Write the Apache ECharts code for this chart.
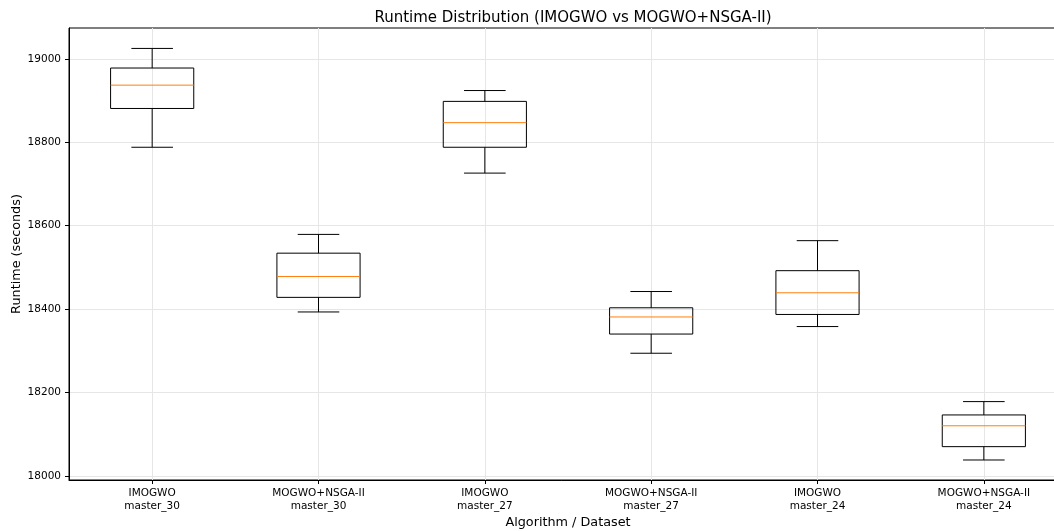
<!DOCTYPE html>
<html>
<head>
<meta charset="utf-8">
<script src="https://cdn.jsdelivr.net/npm/echarts@6/dist/echarts.min.js"></script>
<style>html,body{margin:0;padding:0;background:#fff;}#c{width:1054px;height:531px;}</style>
</head>
<body>
<div id="c"></div>
<script>
const algorithms = ['IMOGWO', 'MOGWO+NSGA-II', 'IMOGWO', 'MOGWO+NSGA-II', 'IMOGWO', 'MOGWO+NSGA-II'];
const datasets = ['master_30', 'master_30', 'master_27', 'master_27', 'master_24', 'master_24'];
const whiskerLow = [18788, 18393, 18726, 18294, 18358, 18038];
const q1 = [18881, 18428, 18788, 18340, 18387, 18070];
const median = [18937, 18478, 18847, 18381, 18439, 18120];
const q3 = [18978, 18534, 18898, 18403, 18492, 18146];
const whiskerHigh = [19025, 18579, 18924, 18442, 18564, 18178];
const yTicks = [18000, 18200, 18400, 18600, 18800, 19000];

const categories = algorithms.map((a, i) => a + '\n' + datasets[i]);
const boxData = categories.map((c, i) => [i, whiskerLow[i], q1[i], median[i], q3[i], whiskerHigh[i]]);

const FONT = 'DejaVu Sans';
const chart = echarts.init(document.getElementById('c'), null, {renderer: 'canvas'});

function renderBox(params, api) {
  const x = api.value(0);
  const pLow = api.coord([x, api.value(1)]);
  const pQ1 = api.coord([x, api.value(2)]);
  const pMed = api.coord([x, api.value(3)]);
  const pQ3 = api.coord([x, api.value(4)]);
  const pHigh = api.coord([x, api.value(5)]);
  const band = api.size([1, 0])[0];
  const bw = band * 0.5;
  const cw = bw * 0.5;
  const cx = pMed[0];
  const stroke = {stroke: '#000', lineWidth: 1, fill: null};
  return {
    type: 'group',
    children: [
      {type: 'line', shape: {x1: cx, y1: pQ3[1], x2: cx, y2: pHigh[1]}, style: stroke},
      {type: 'line', shape: {x1: cx, y1: pQ1[1], x2: cx, y2: pLow[1]}, style: stroke},
      {type: 'line', shape: {x1: cx - cw / 2, y1: pHigh[1], x2: cx + cw / 2, y2: pHigh[1]}, style: stroke},
      {type: 'line', shape: {x1: cx - cw / 2, y1: pLow[1], x2: cx + cw / 2, y2: pLow[1]}, style: stroke},
      {type: 'rect', shape: {x: cx - bw / 2, y: pQ3[1], width: bw, height: pQ1[1] - pQ3[1]}, style: stroke},
      {type: 'line', shape: {x1: cx - bw / 2, y1: pMed[1], x2: cx + bw / 2, y2: pMed[1]}, style: {stroke: '#ff7f0e', lineWidth: 1}}
    ]
  };
}

chart.setOption({
  animation: false,
  backgroundColor: '#fff',
  title: {
    text: 'Runtime Distribution (IMOGWO vs MOGWO+NSGA-II)',
    left: 568, top: 6, textAlign: 'center',
    textStyle: {fontFamily: FONT, fontSize: 15, fontWeight: 'normal', color: '#000'}
  },
  grid: {
    left: 69, right: -13, top: 28, bottom: 51,
    outerBoundsMode: 'none',
    containLabel: false,
    show: true, borderColor: '#000', borderWidth: 1, backgroundColor: 'transparent'
  },
  xAxis: {
    type: 'category',
    data: categories,
    boundaryGap: true,
    name: 'Algorithm / Dataset',
    nameLocation: 'middle',
    nameGap: 36,
    nameMoveOverlap: false,
    nameTextStyle: {fontFamily: FONT, fontSize: 12.8, color: '#000'},
    axisLine: {show: true, lineStyle: {color: '#000', width: 1}},
    axisTick: {show: true, alignWithLabel: true, length: 4, lineStyle: {color: '#000'}},
    axisLabel: {fontFamily: FONT, fontSize: 10.5, color: '#000', lineHeight: 13, margin: 7, interval: 0},
    splitLine: {show: true, alignWithLabel: true, lineStyle: {color: '#e6e6e6', width: 1}}
  },
  yAxis: {
    type: 'value',
    min: 17990, max: 19074,
    splitNumber: 5,
    name: 'Runtime (seconds)',
    nameLocation: 'middle',
    nameGap: 46,
    nameMoveOverlap: false,
    nameTextStyle: {fontFamily: FONT, fontSize: 12.8, color: '#000'},
    axisLine: {show: true, lineStyle: {color: '#000', width: 1}},
    axisTick: {show: true, length: 4, lineStyle: {color: '#000'}, customValues: yTicks},
    axisLabel: {fontFamily: FONT, fontSize: 10.5, color: '#000', margin: 8, customValues: yTicks, formatter: v => String(v)},
    splitLine: {show: true, lineStyle: {color: '#e6e6e6', width: 1}}
  },
  series: [{
    type: 'custom',
    renderItem: renderBox,
    encode: {x: 0, y: [1, 2, 3, 4, 5]},
    data: boxData,
    z: 5
  }]
});
</script>
</body>
</html>
